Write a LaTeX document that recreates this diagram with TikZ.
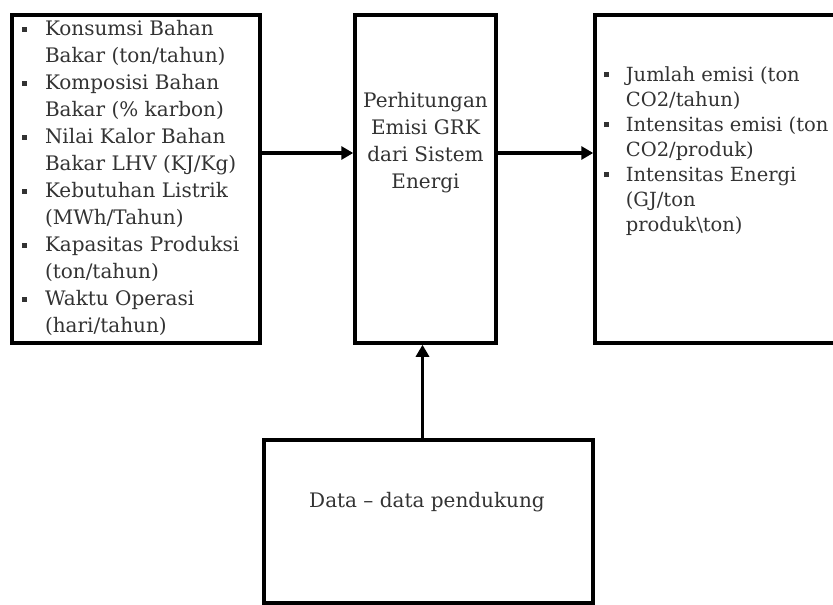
\documentclass[tikz,border=0pt]{standalone}
\usepackage{fontspec}
\setmainfont{DejaVu Serif}
\usetikzlibrary{arrows.meta}
\newcommand{\bul}{\rule[0.2em]{0.24em}{0.24em}}
\begin{document}
\begin{tikzpicture}[
    x=1pt, y=-1pt,
    box/.style={rectangle, draw, line width=3.5pt},
    txt/.style={font=\fontsize{20}{27}\selectfont, text=black!80, inner sep=0pt},
    arrow/.style={line width=3.5pt, -{Triangle[length=12pt, width=13pt]}}
]
\useasboundingbox (0,0) rectangle (833,605);
\clip (0,0) rectangle (833,605);

% Boxes
\node[box, minimum width=248pt, minimum height=328pt] (input) at (136,179) {};
\node[box, minimum width=141pt, minimum height=328pt] (calc) at (425.5,179) {};
\node[box, minimum width=280pt, minimum height=328pt] (output) at (735,179) {};
\node[box, minimum width=329pt, minimum height=163pt] (data) at (428.5,521.5) {};

% Texts
\node[txt, anchor=west] (inputtext) at (22,179) {%
  \begin{tabular}{@{}l@{\hspace{18pt}}l@{}}
  \bul & Konsumsi Bahan\\
       & Bakar (ton/tahun)\\
  \bul & Komposisi Bahan\\
       & Bakar (\% karbon)\\
  \bul & Nilai Kalor Bahan\\
       & Bakar LHV (KJ/Kg)\\
  \bul & Kebutuhan Listrik\\
       & (MWh/Tahun)\\
  \bul & Kapasitas Produksi\\
       & (ton/tahun)\\
  \bul & Waktu Operasi\\
       & (hari/tahun)
  \end{tabular}};
\node[txt, align=center] (calctext) at (425.5,143)
  {Perhitungan\\Emisi GRK\\dari Sistem\\Energi};
\node[txt, font=\fontsize{19.5}{25}\selectfont, anchor=west] (outputtext) at (604,151) {%
  \begin{tabular}{@{}l@{\hspace{17pt}}l@{}}
  \bul & Jumlah emisi (ton\\
       & CO2/tahun)\\
  \bul & Intensitas emisi (ton\\
       & CO2/produk)\\
  \bul & Intensitas Energi\\
       & (GJ/ton\\
       & produk\textbackslash ton)
  \end{tabular}};
\node[txt] (datatext) at (427,502) {Data -- data pendukung};

% Arrows
\draw[arrow] ([yshift=26pt]input.east) -- ([yshift=26pt]calc.west);
\draw[arrow] ([yshift=26pt]calc.east) -- ([yshift=26pt]output.west);
\draw[arrow] ([xshift=-6pt]data.north) -- ([xshift=-6pt]data.north |- calc.south);

\end{tikzpicture}
\end{document}
